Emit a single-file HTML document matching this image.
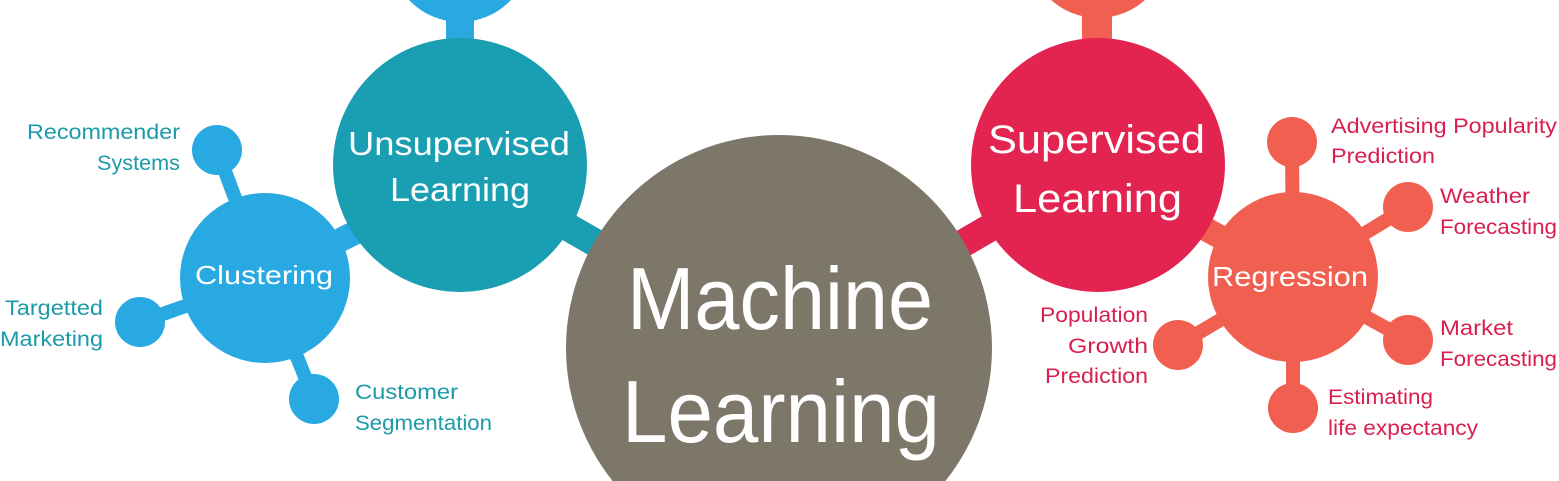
<!DOCTYPE html>
<html><head><meta charset="utf-8"><style>
html,body{margin:0;padding:0;background:#fff;width:1559px;height:481px;overflow:hidden;}
svg{display:block;overflow:hidden;}
text{font-family:"Liberation Sans",sans-serif;}
</style></head><body>
<svg width="1559" height="481" viewBox="0 0 1559 481" xmlns="http://www.w3.org/2000/svg">
<defs><clipPath id="c"><rect x="0" y="0" width="1559" height="481"/></clipPath></defs>
<g clip-path="url(#c)">
<g stroke="#29a9e1" stroke-width="28">
<line x1="460" y1="0" x2="460" y2="60"/>
</g>
<g stroke="#199fb1" stroke-width="28">
<line x1="460" y1="165" x2="660" y2="280"/>
</g>
<g stroke="#29a9e1">
<line x1="265" y1="278" x2="400" y2="210" stroke-width="24"/>
<line x1="265" y1="278" x2="217" y2="150" stroke-width="14"/>
<line x1="265" y1="278" x2="140" y2="322" stroke-width="14"/>
<line x1="265" y1="278" x2="314" y2="399" stroke-width="14"/>
</g>
<g stroke="#f05f50" stroke-width="30">
<line x1="1097" y1="0" x2="1097" y2="60"/>
</g>
<g stroke="#e32350" stroke-width="28">
<line x1="1098" y1="165" x2="900" y2="280"/>
</g>
<g stroke="#f05f50">
<line x1="1293" y1="277" x2="1180" y2="215" stroke-width="24"/>
<line x1="1293" y1="277" x2="1292" y2="142" stroke-width="14"/>
<line x1="1293" y1="277" x2="1408" y2="207" stroke-width="14"/>
<line x1="1293" y1="277" x2="1408" y2="340" stroke-width="14"/>
<line x1="1293" y1="277" x2="1293" y2="408" stroke-width="14"/>
<line x1="1293" y1="277" x2="1178" y2="345" stroke-width="14"/>
</g>
<circle cx="460" cy="-48" r="70" fill="#29a9e1"/>
<circle cx="1098" cy="-52" r="70" fill="#f05f50"/>
<circle cx="460" cy="165" r="127" fill="#199fb1"/>
<circle cx="265" cy="278" r="85" fill="#29a9e1"/>
<circle cx="217" cy="150" r="25" fill="#29a9e1"/>
<circle cx="140" cy="322" r="25" fill="#29a9e1"/>
<circle cx="314" cy="399" r="25" fill="#29a9e1"/>
<circle cx="1098" cy="165" r="127" fill="#e32350"/>
<circle cx="1293" cy="277" r="85" fill="#f05f50"/>
<circle cx="1292" cy="142" r="25" fill="#f05f50"/>
<circle cx="1408" cy="207" r="25" fill="#f05f50"/>
<circle cx="1408" cy="340" r="25" fill="#f05f50"/>
<circle cx="1293" cy="408" r="25" fill="#f05f50"/>
<circle cx="1178" cy="345" r="25" fill="#f05f50"/>
<circle cx="779" cy="348" r="213" fill="#7d7769"/>
<g fill="#fff">
<text x="627" y="329" font-size="88" textLength="306" lengthAdjust="spacingAndGlyphs">Machine</text>
<text x="622" y="442" font-size="88" textLength="318" lengthAdjust="spacingAndGlyphs">Learning</text>
<text x="348" y="155" font-size="33" textLength="222" lengthAdjust="spacingAndGlyphs">Unsupervised</text>
<text x="390" y="201" font-size="33" textLength="140" lengthAdjust="spacingAndGlyphs">Learning</text>
<text x="195" y="284" font-size="26" textLength="138" lengthAdjust="spacingAndGlyphs">Clustering</text>
<text x="988" y="153" font-size="40" textLength="217" lengthAdjust="spacingAndGlyphs">Supervised</text>
<text x="1013" y="212" font-size="40" textLength="169" lengthAdjust="spacingAndGlyphs">Learning</text>
<text x="1212" y="286" font-size="28" textLength="156" lengthAdjust="spacingAndGlyphs">Regression</text>
</g>
<g fill="#1b9aaa" font-size="21">
<text x="27" y="139" textLength="153" lengthAdjust="spacingAndGlyphs">Recommender</text>
<text x="97" y="170" textLength="83" lengthAdjust="spacingAndGlyphs">Systems</text>
<text x="5" y="315" textLength="98" lengthAdjust="spacingAndGlyphs">Targetted</text>
<text x="0" y="346" textLength="103" lengthAdjust="spacingAndGlyphs">Marketing</text>
<text x="355" y="399" textLength="103" lengthAdjust="spacingAndGlyphs">Customer</text>
<text x="355" y="430" textLength="137" lengthAdjust="spacingAndGlyphs">Segmentation</text>
</g>
<g fill="#d91f4f" font-size="21">
<text x="1331" y="133" textLength="226" lengthAdjust="spacingAndGlyphs">Advertising Popularity</text>
<text x="1331" y="163" textLength="104" lengthAdjust="spacingAndGlyphs">Prediction</text>
<text x="1440" y="203" textLength="90" lengthAdjust="spacingAndGlyphs">Weather</text>
<text x="1440" y="234" textLength="117" lengthAdjust="spacingAndGlyphs">Forecasting</text>
<text x="1040" y="322" textLength="108" lengthAdjust="spacingAndGlyphs">Population</text>
<text x="1068" y="353" textLength="80" lengthAdjust="spacingAndGlyphs">Growth</text>
<text x="1045" y="383" textLength="103" lengthAdjust="spacingAndGlyphs">Prediction</text>
<text x="1440" y="335" textLength="73" lengthAdjust="spacingAndGlyphs">Market</text>
<text x="1440" y="366" textLength="117" lengthAdjust="spacingAndGlyphs">Forecasting</text>
<text x="1328" y="404" textLength="105" lengthAdjust="spacingAndGlyphs">Estimating</text>
<text x="1328" y="435" textLength="150" lengthAdjust="spacingAndGlyphs">life expectancy</text>
</g>
</g>
</svg>
</body></html>
